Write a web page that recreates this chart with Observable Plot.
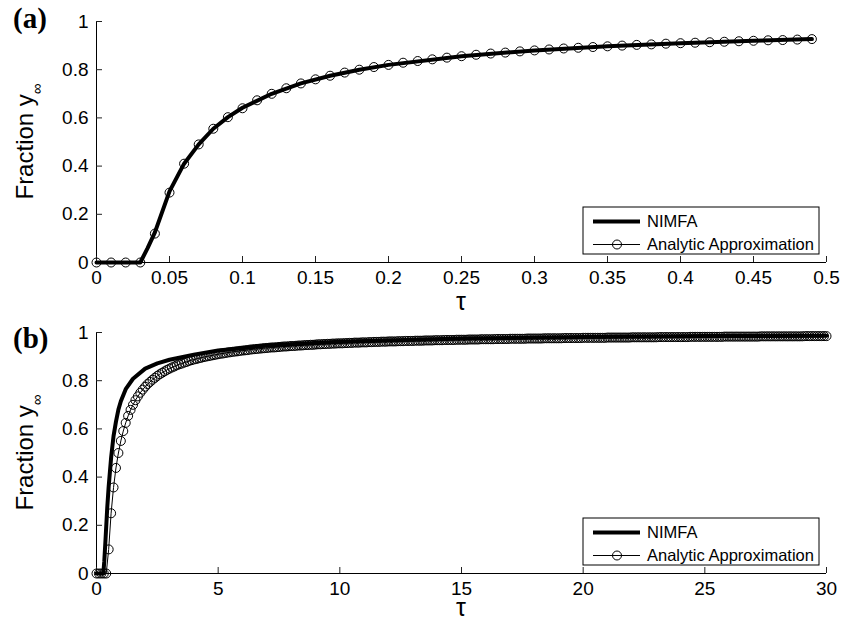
<!DOCTYPE html>
<html><head><meta charset="utf-8">
<script src="https://cdn.jsdelivr.net/npm/d3@7"></script>
<script src="https://cdn.jsdelivr.net/npm/@observablehq/plot@0.6"></script>
<style>body{margin:0;background:#fff;} svg{display:block;}</style>
</head><body><div id="chart"></div>
<script>
// ---------- Panel (a) ----------
const tauA = [0,0.01,0.02,0.03,0.04,0.05,0.06,0.07,0.08,0.09,
  0.10,0.11,0.12,0.13,0.14,0.15,0.16,0.17,0.18,0.19,
  0.20,0.21,0.22,0.23,0.24,0.25,0.26,0.27,0.28,0.29,
  0.30,0.31,0.32,0.33,0.34,0.35,0.36,0.37,0.38,0.39,
  0.40,0.41,0.42,0.43,0.44,0.45,0.46,0.47,0.48,0.49];
const analyticA = [0,0,0,0,0.12,0.29,0.41,0.49,0.555,0.603,
  0.64,0.673,0.70,0.723,0.743,0.76,0.775,0.788,0.80,0.811,
  0.82,0.829,0.836,0.843,0.85,0.856,0.862,0.867,0.871,0.876,
  0.88,0.884,0.888,0.891,0.894,0.897,0.90,0.903,0.905,0.908,
  0.91,0.912,0.914,0.916,0.918,0.92,0.922,0.923,0.925,0.927];
const nimfaTauA = [0,0.03,0.035,0.04,0.05,0.06,0.07,0.08,0.09,0.1,0.12,0.14,0.16,0.18,0.2,0.25,0.3,0.35,0.4,0.45,0.49];
const nimfaA    = [0,0,0.06,0.125,0.295,0.41,0.49,0.555,0.603,0.642,0.70,0.743,0.775,0.80,0.82,0.856,0.88,0.897,0.91,0.92,0.927];
const xTicksA = [0,0.05,0.1,0.15,0.2,0.25,0.3,0.35,0.4,0.45,0.5];

// ---------- Panel (b) ----------
const tauB = [0,0.1,0.2,0.3,0.4,0.5,0.6,0.7,0.8,0.9,
  1,1.1,1.2,1.3,1.4,1.5,1.6,1.7,1.8,1.9, 2,2.1,2.2,2.3,2.4,2.5,2.6,2.7,2.8,2.9,
  3,3.1,3.2,3.3,3.4,3.5,3.6,3.7,3.8,3.9, 4,4.1,4.2,4.3,4.4,4.5,4.6,4.7,4.8,4.9,
  5,5.1,5.2,5.3,5.4,5.5,5.6,5.7,5.8,5.9, 6,6.1,6.2,6.3,6.4,6.5,6.6,6.7,6.8,6.9,
  7,7.1,7.2,7.3,7.4,7.5,7.6,7.7,7.8,7.9, 8,8.1,8.2,8.3,8.4,8.5,8.6,8.7,8.8,8.9,
  9,9.1,9.2,9.3,9.4,9.5,9.6,9.7,9.8,9.9, 10,10.1,10.2,10.3,10.4,10.5,10.6,10.7,10.8,10.9,
  11,11.1,11.2,11.3,11.4,11.5,11.6,11.7,11.8,11.9, 12,12.1,12.2,12.3,12.4,12.5,12.6,12.7,12.8,12.9,
  13,13.1,13.2,13.3,13.4,13.5,13.6,13.7,13.8,13.9, 14,14.1,14.2,14.3,14.4,14.5,14.6,14.7,14.8,14.9,
  15,15.1,15.2,15.3,15.4,15.5,15.6,15.7,15.8,15.9, 16,16.1,16.2,16.3,16.4,16.5,16.6,16.7,16.8,16.9,
  17,17.1,17.2,17.3,17.4,17.5,17.6,17.7,17.8,17.9, 18,18.1,18.2,18.3,18.4,18.5,18.6,18.7,18.8,18.9,
  19,19.1,19.2,19.3,19.4,19.5,19.6,19.7,19.8,19.9, 20,20.1,20.2,20.3,20.4,20.5,20.6,20.7,20.8,20.9,
  21,21.1,21.2,21.3,21.4,21.5,21.6,21.7,21.8,21.9, 22,22.1,22.2,22.3,22.4,22.5,22.6,22.7,22.8,22.9,
  23,23.1,23.2,23.3,23.4,23.5,23.6,23.7,23.8,23.9, 24,24.1,24.2,24.3,24.4,24.5,24.6,24.7,24.8,24.9,
  25,25.1,25.2,25.3,25.4,25.5,25.6,25.7,25.8,25.9, 26,26.1,26.2,26.3,26.4,26.5,26.6,26.7,26.8,26.9,
  27,27.1,27.2,27.3,27.4,27.5,27.6,27.7,27.8,27.9, 28,28.1,28.2,28.3,28.4,28.5,28.6,28.7,28.8,28.9,
  29,29.1,29.2,29.3,29.4,29.5,29.6,29.7,29.8,29.9, 30];
const analyticB = [0,0,0,0,0,0.1,0.25,0.357,0.438,0.5,
  0.55,0.591,0.625,0.654,0.679,0.7,0.719,0.735,0.75,0.763,
  0.775,0.786,0.795,0.804,0.812,0.82,0.827,0.833,0.839,0.845,
  0.85,0.855,0.859,0.864,0.868,0.871,0.875,0.878,0.882,0.885,
  0.888,0.89,0.893,0.895,0.898,0.9,0.902,0.904,0.906,0.908,
  0.91,0.912,0.913,0.915,0.917,0.918,0.92,0.921,0.922,0.924,
  0.925,0.926,0.927,0.929,0.93,0.931,0.932,0.933,0.934,0.935,
  0.936,0.937,0.938,0.938,0.939,0.94,0.941,0.942,0.942,0.943,
  0.944,0.944,0.945,0.946,0.946,0.947,0.948,0.948,0.949,0.949,
  0.95,0.951,0.951,0.952,0.952,0.953,0.953,0.954,0.954,0.955,
  0.955,0.955,0.956,0.956,0.957,0.957,0.958,0.958,0.958,0.959,
  0.959,0.959,0.96,0.96,0.961,0.961,0.961,0.962,0.962,0.962,
  0.963,0.963,0.963,0.963,0.964,0.964,0.964,0.965,0.965,0.965,
  0.965,0.966,0.966,0.966,0.966,0.967,0.967,0.967,0.967,0.968,
  0.968,0.968,0.968,0.969,0.969,0.969,0.969,0.969,0.97,0.97,
  0.97,0.97,0.97,0.971,0.971,0.971,0.971,0.971,0.972,0.972,
  0.972,0.972,0.972,0.972,0.973,0.973,0.973,0.973,0.973,0.973,
  0.974,0.974,0.974,0.974,0.974,0.974,0.974,0.975,0.975,0.975,
  0.975,0.975,0.975,0.975,0.976,0.976,0.976,0.976,0.976,0.976,
  0.976,0.976,0.977,0.977,0.977,0.977,0.977,0.977,0.977,0.977,
  0.978,0.978,0.978,0.978,0.978,0.978,0.978,0.978,0.978,0.978,
  0.979,0.979,0.979,0.979,0.979,0.979,0.979,0.979,0.979,0.979,
  0.98,0.98,0.98,0.98,0.98,0.98,0.98,0.98,0.98,0.98,
  0.98,0.981,0.981,0.981,0.981,0.981,0.981,0.981,0.981,0.981,
  0.981,0.981,0.981,0.981,0.982,0.982,0.982,0.982,0.982,0.982,
  0.982,0.982,0.982,0.982,0.982,0.982,0.982,0.982,0.983,0.983,
  0.983,0.983,0.983,0.983,0.983,0.983,0.983,0.983,0.983,0.983,
  0.983,0.983,0.983,0.984,0.984,0.984,0.984,0.984,0.984,0.984,
  0.984,0.984,0.984,0.984,0.984,0.984,0.984,0.984,0.984,0.984,
  0.984,0.985,0.985,0.985,0.985,0.985,0.985,0.985,0.985,0.985,
  0.985];
const nimfaTauB = [0,0.28,0.32,0.37,0.44,0.5,0.55,0.6,0.7,0.8,0.9,1.0,1.2,1.5,2,2.5,3,4,5,7,10,15,20,25,30];
const nimfaB    = [0,0,0.05,0.14,0.27,0.36,0.42,0.48,0.57,0.63,0.68,0.715,0.765,0.808,0.85,0.872,0.887,0.908,0.925,0.946,0.962,0.975,0.981,0.985,0.987];
const xTicksB = [0,5,10,15,20,25,30];

const yTicks = [0,0.2,0.4,0.6,0.8,1];
const legendLabels = ["NIMFA","Analytic Approximation"];
const axisLabelY = "Fraction y";
const axisLabelYSub = "\u221E";
const axisLabelX = "\u03C4";

const SANS = "'Liberation Sans', Arial, Helvetica, sans-serif";
const W = 841, ML = 96, MR = 15;

function panel({tag, tauM, yM, tauN, yN, xDomain, xTicks, height, marginTop, marginBottom, tagBaseline, tauOffset}) {
  const analytic = tauM.map((t, i) => ({t, y: yM[i]}));
  const nimfa = tauN.map((t, i) => ({t, y: yN[i]}));
  const svg = Plot.plot({
    width: W, height, marginTop, marginBottom, marginLeft: ML, marginRight: MR,
    style: {fontFamily: SANS, fontSize: "19px", color: "#000", background: "#fff", overflow: "visible"},
    x: {domain: xDomain},
    y: {domain: [0, 1]},
    marks: [
      Plot.ruleY([0], {stroke: "#000", strokeWidth: 1}),
      Plot.ruleX([xDomain[0]], {stroke: "#000", strokeWidth: 1}),
      Plot.axisX({ticks: xTicks, tickSize: -6, tickPadding: 14, tickFormat: d => String(d), label: null, stroke: "#222"}),
      Plot.axisY({ticks: yTicks, tickSize: -6, tickPadding: 14, tickFormat: d => String(d), label: null, stroke: "#222"}),
      Plot.line(nimfa, {x: "t", y: "y", stroke: "#000", strokeWidth: 4, strokeLinejoin: "round"}),
      Plot.line(analytic, {x: "t", y: "y", stroke: "#000", strokeWidth: 1}),
      Plot.dot(analytic, {x: "t", y: "y", r: 4.5, stroke: "#000", strokeWidth: 1, fill: "none"})
    ]
  });
  const s = d3.select(svg);
  const plotBottom = height - marginBottom;
  const midY = (marginTop + plotBottom) / 2;
  // panel tag
  s.append("text").attr("x", 13).attr("y", tagBaseline).attr("text-anchor", "start")
    .attr("font-family", "'Liberation Serif', 'Times New Roman', serif")
    .attr("font-weight", "bold").attr("font-size", 29).attr("fill", "#000").text(tag);
  // y label
  const yl = s.append("text")
    .attr("transform", `translate(33,${midY}) rotate(-90)`)
    .attr("text-anchor", "middle").attr("font-family", SANS).attr("font-size", 24).attr("fill", "#000");
  yl.append("tspan").text(axisLabelY);
  yl.append("tspan").attr("font-size", 15).attr("dy", 9).text(axisLabelYSub);
  // x label
  s.append("text").attr("x", (ML + W - MR) / 2).attr("y", plotBottom + tauOffset)
    .attr("text-anchor", "middle").attr("font-family", SANS).attr("font-size", 25).attr("fill", "#000").text(axisLabelX);
  // legend
  const lg = s.append("g").attr("font-family", SANS).attr("font-size", 16.5).attr("fill", "#000").attr("text-anchor", "start");
  const bx = 583, bw = 236, bBottom = plotBottom - 8, bh = 47, by = bBottom - bh;
  lg.append("rect").attr("x", bx).attr("y", by).attr("width", bw).attr("height", bh)
    .attr("fill", "#fff").attr("stroke", "#000").attr("stroke-width", 1);
  const r1 = by + 14.5, r2 = by + 37.5;
  lg.append("line").attr("x1", 593).attr("x2", 640).attr("y1", r1).attr("y2", r1).attr("stroke", "#000").attr("stroke-width", 4);
  lg.append("text").attr("x", 647).attr("y", r1).attr("dy", "0.36em").text(legendLabels[0]);
  lg.append("line").attr("x1", 593).attr("x2", 640).attr("y1", r2).attr("y2", r2).attr("stroke", "#000").attr("stroke-width", 1);
  lg.append("circle").attr("cx", 617).attr("cy", r2).attr("r", 4.5).attr("fill", "none").attr("stroke", "#000");
  lg.append("text").attr("x", 647).attr("y", r2).attr("dy", "0.36em").text(legendLabels[1]);
  return svg;
}

const root = document.getElementById("chart");
root.append(panel({tag: "(a)", tauM: tauA, yM: analyticA, tauN: nimfaTauA, yN: nimfaA,
  xDomain: [0, 0.5], xTicks: xTicksA, height: 312, marginTop: 21, marginBottom: 50, tagBaseline: 28, tauOffset: 48}));
root.append(panel({tag: "(b)", tauM: tauB, yM: analyticB, tauN: nimfaTauB, yN: nimfaB,
  xDomain: [0, 30], xTicks: xTicksB, height: 313, marginTop: 20, marginBottom: 52, tagBaseline: 36, tauOffset: 43}));
</script>
</body></html>
